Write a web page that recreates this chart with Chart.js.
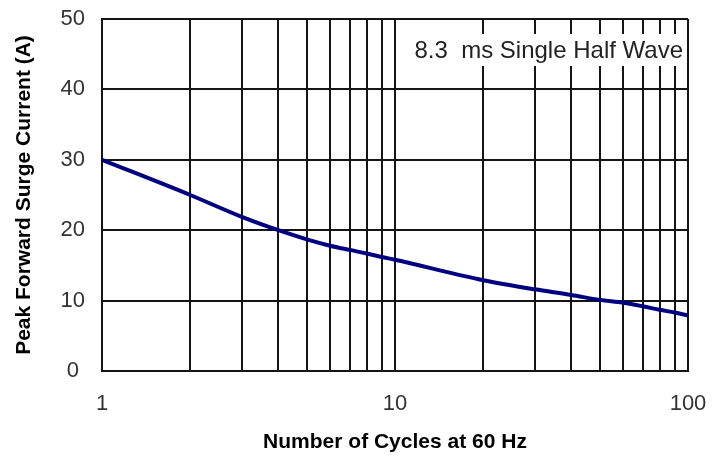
<!DOCTYPE html>
<html>
<head>
<meta charset="utf-8">
<script src="https://cdn.jsdelivr.net/npm/chart.js@4.4.1/dist/chart.umd.min.js"></script>
<style>
  html, body { margin: 0; padding: 0; background: #fff; }
  #wrap { width: 722px; height: 458px; }
</style>
</head>
<body>
<div id="wrap"><canvas id="myChart"></canvas></div>
<script>
// number of cycles (log axis) and the surge current
var cycles = [1, 2, 3, 4, 5, 6, 7, 8, 9, 10, 20, 30, 40, 50, 60, 70, 80, 90, 100];
var surge  = [30, 25, 21.9, 20.0, 18.7, 17.8, 17.2, 16.7, 16.2, 15.8, 12.9, 11.6, 10.8, 10.1, 9.7, 9.2, 8.7, 8.3, 7.9];

var xGrid = [1, 2, 3, 4, 5, 6, 7, 8, 9, 10, 20, 30, 40, 50, 60, 70, 80, 90, 100];
var xLabels = [1, 10, 100];
var yTicks = [0, 10, 20, 30, 40, 50];
var noteText = '8.3  ms Single Half Wave';

var gridColor = '#151515';

// white box with the test condition, top right of the plot
var notePlugin = {
    id: 'note',
    afterDatasetsDraw: function (chart) {
        var ctx = chart.ctx;
        var area = chart.chartArea;
        ctx.save();
        ctx.fillStyle = '#fff';
        ctx.fillRect(area.right - 285, area.top + 15, 281, 32);
        ctx.font = '24px "Liberation Sans", Arial, sans-serif';
        ctx.fillStyle = '#222';
        ctx.textAlign = 'right';
        ctx.textBaseline = 'middle';
        ctx.fillText(noteText, area.right - 5, area.top + 32);
        ctx.restore();
    }
};

var ctx = document.getElementById('myChart').getContext('2d');
var myChart = new Chart(ctx, {
    type: 'line',
    data: {
        datasets: [{
            label: 'Surge current',
            data: cycles.map(function (c, i) { return { x: c, y: surge[i] }; }),
            borderColor: '#000080',
            borderWidth: 4,
            pointRadius: 0,
            cubicInterpolationMode: 'monotone',
            fill: false
        }]
    },
    options: {
        responsive: true,
        maintainAspectRatio: false,
        animation: false,
        layout: { padding: { left: 0, top: 19, right: 34, bottom: 0 } },
        plugins: {
            legend: { display: false },
            tooltip: { enabled: false }
        },
        scales: {
            x: {
                type: 'logarithmic',
                min: 1,
                max: 100,
                afterBuildTicks: function (scale) {
                    scale.ticks = xGrid.map(function (v) { return { value: v }; });
                },
                afterFit: function (scale) {
                    scale.height = 87;
                    scale.paddingLeft = 0;
                    scale.paddingRight = 0;
                },
                grid: { color: gridColor, lineWidth: 2, drawTicks: false },
                border: { color: gridColor, width: 2 },
                ticks: {
                    autoSkip: false,
                    maxRotation: 0,
                    padding: 20,
                    color: '#333',
                    font: { family: '"Liberation Sans", Arial, sans-serif', size: 22 },
                    callback: function (v) {
                        return xLabels.indexOf(v) >= 0 ? String(v) : '';
                    }
                },
                title: {
                    display: true,
                    text: 'Number of Cycles at 60 Hz',
                    color: '#000',
                    padding: { top: 0, bottom: 3 },
                    font: { family: '"Liberation Sans", Arial, sans-serif', size: 21, weight: 'bold' }
                }
            },
            y: {
                min: 0,
                max: 50,
                afterBuildTicks: function (scale) {
                    scale.ticks = yTicks.map(function (v) { return { value: v }; });
                },
                afterFit: function (scale) {
                    scale.width = 102;
                    scale.paddingTop = 0;
                    scale.paddingBottom = 0;
                },
                grid: { color: gridColor, lineWidth: 2, drawTicks: false },
                border: { color: gridColor, width: 2 },
                ticks: {
                    padding: 17,
                    crossAlign: 'center',
                    color: '#333',
                    font: { family: '"Liberation Sans", Arial, sans-serif', size: 22 }
                },
                title: {
                    display: true,
                    text: 'Peak Forward Surge Current (A)',
                    color: '#000',
                    padding: { top: 12, bottom: 0 },
                    font: { family: '"Liberation Sans", Arial, sans-serif', size: 21, weight: 'bold' }
                }
            }
        }
    },
    plugins: [notePlugin]
});
</script>
</body>
</html>
